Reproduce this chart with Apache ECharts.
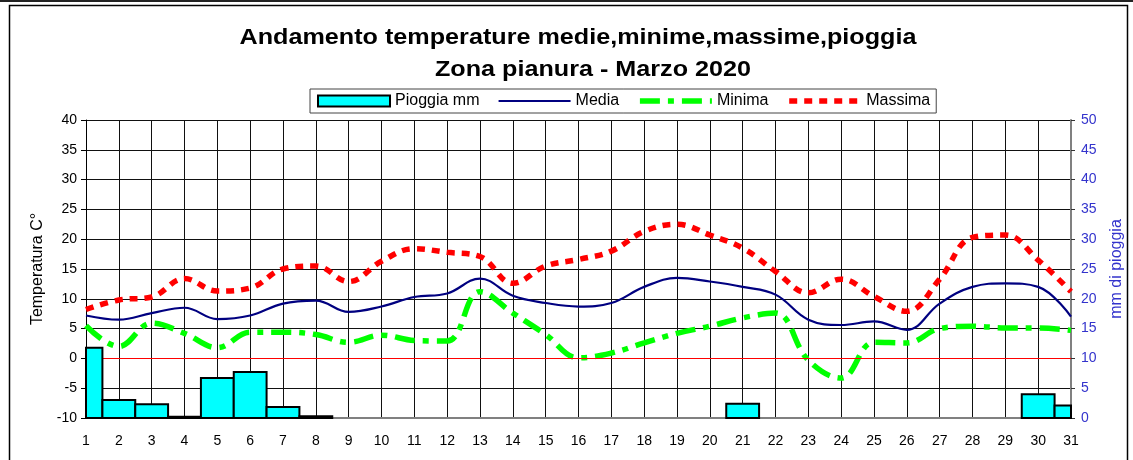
<!DOCTYPE html>
<html>
<head>
<meta charset="utf-8">
<script src="https://cdn.jsdelivr.net/npm/echarts@6/dist/echarts.min.js"></script>
<style>
html,body{margin:0;padding:0;background:#fff;}
#c{width:1133px;height:460px;}
</style>
</head>
<body>
<div id="c"></div>
<script>
const days = [1,2,3,4,5,6,7,8,9,10,11,12,13,14,15,16,17,18,19,20,21,22,23,24,25,26,27,28,29,30,31];
const pioggia = [11.8,3.0,2.3,0.2,6.7,7.7,1.85,0.3,0,0,0,0,0,0,0,0,0,0,0,0,2.4,0,0,0,0,0,0,0,0,4.0,2.1];
const media = [7.2,6.5,7.6,8.5,6.6,7.2,9.2,9.7,7.8,8.7,10.3,10.9,13.4,10.5,9.3,8.7,9.3,12.0,13.5,12.9,12.0,10.7,6.5,5.6,6.2,4.8,9.2,12.0,12.6,12.0,7.0];
const minima = [5.5,2.0,5.9,4.2,1.8,4.4,4.4,4.0,2.7,3.9,3.0,2.9,11.2,7.6,4.0,0.1,0.9,2.6,4.2,5.4,6.8,7.6,-0.3,-3.3,2.7,2.6,5.0,5.4,5.1,5.1,4.7];
const massima = [8.2,9.8,10.3,13.4,11.3,11.8,15.0,15.5,12.9,16.3,18.4,17.8,17.1,12.6,15.5,16.6,18.0,21.3,22.5,20.7,18.5,14.6,11.0,13.3,10.4,7.9,13.3,20.3,20.7,16.5,11.2];
const titolo1 = 'Andamento temperature medie,minime,massime,pioggia';
const titolo2 = 'Zona pianura - Marzo 2020';

const pair = arr => days.map((d, i) => [d, arr[i]]);

const FONT = 'Arial, "Liberation Sans", sans-serif';
const chart = echarts.init(document.getElementById('c'), null, {renderer: 'canvas'});

function renderRain(params, api) {
  const x = api.value(0), v = api.value(1);
  if (!(v > 0)) return null;
  const p0 = api.coord([x - 0.5, v]);
  const p1 = api.coord([x + 0.5, 0]);
  const cs = params.coordSys;
  const rect = echarts.graphic.clipRectByRect(
    {x: p0[0], y: p0[1], width: p1[0] - p0[0], height: p1[1] - p0[1]},
    {x: cs.x, y: cs.y, width: cs.width, height: cs.height}
  );
  if (!rect) return null;
  return {type: 'rect', shape: rect, style: {fill: '#00FFFF', stroke: '#000', lineWidth: 2}};
}

chart.setOption({
  animation: false,
  backgroundColor: '#fff',
  textStyle: {fontFamily: FONT},
  graphic: [
    {type: 'rect', silent: true, shape: {x: 0, y: 0, width: 1133, height: 2}, style: {fill: '#222'}},
    {type: 'polyline', silent: true, shape: {points: [[9.5, 470], [9.5, 5.5], [1127.5, 5.5], [1127.5, 470]]},
     style: {stroke: '#000', lineWidth: 1.5, fill: null}},
    {type: 'text', silent: true, x: 578, y: 38, scaleX: 1.144,
     style: {text: titolo1, font: 'bold 22px ' + FONT, fill: '#000', align: 'center', verticalAlign: 'middle'}},
    {type: 'text', silent: true, x: 593, y: 70, scaleX: 1.144,
     style: {text: titolo2, font: 'bold 22px ' + FONT, fill: '#000', align: 'center', verticalAlign: 'middle'}}
  ],
  legend: {
    left: 310, top: 89,
    padding: [4, 6, 4, 7],
    itemWidth: 72, itemHeight: 11, itemGap: 18,
    borderColor: '#444', borderWidth: 1, backgroundColor: '#fff',
    textStyle: {fontFamily: FONT, fontSize: 16, color: '#000'},
    lineStyle: {width: 'inherit'},
    data: [
      {name: 'Pioggia mm', icon: 'rect'},
      {name: 'Media', itemStyle: {opacity: 0}},
      {name: 'Minima', itemStyle: {opacity: 0}},
      {name: 'Massima', itemStyle: {opacity: 0}}
    ]
  },
  grid: {left: 86, right: 60, top: 120, bottom: 42, containLabel: false},
  xAxis: {
    type: 'value', min: 1, max: 31, interval: 1,
    axisLine: {show: true, onZero: false, lineStyle: {color: '#808080', width: 2}},
    axisTick: {show: false},
    axisLabel: {margin: 16, fontSize: 14, color: '#000', fontFamily: FONT},
    splitLine: {show: true, lineStyle: {color: '#111', width: 1}}
  },
  yAxis: [
    {
      type: 'value', min: -10, max: 40, interval: 5, position: 'left',
      name: 'Temperatura C°', nameLocation: 'middle', nameGap: 40, nameRotate: 90,
      nameTextStyle: {fontSize: 16, color: '#000', fontFamily: FONT},
      axisLine: {show: true, onZero: false, lineStyle: {color: '#000', width: 1}},
      axisTick: {show: true, length: 5, lineStyle: {color: '#000'}},
      axisLabel: {margin: 9, fontSize: 14, color: '#000', fontFamily: FONT},
      splitLine: {show: true, lineStyle: {color: '#111', width: 1}}
    },
    {
      type: 'value', min: 0, max: 50, interval: 5, position: 'right',
      name: 'mm di pioggia', nameLocation: 'middle', nameGap: 38, nameRotate: 90,
      nameTextStyle: {fontSize: 16, color: '#3333CC', fontFamily: FONT},
      axisLine: {show: true, lineStyle: {color: '#808080', width: 2}},
      axisTick: {show: true, length: 4, lineStyle: {color: '#333'}},
      axisLabel: {margin: 10, fontSize: 14, color: '#3333CC', fontFamily: FONT},
      splitLine: {show: false}
    }
  ],
  series: [
    {
      name: 'Pioggia mm', type: 'custom', yAxisIndex: 1, data: pair(pioggia),
      renderItem: renderRain,
      encode: {x: 0, y: 1},
      itemStyle: {color: '#00FFFF', borderColor: '#000', borderWidth: 2},
      z: 6
    },
    {
      name: 'Media', type: 'line', yAxisIndex: 0, data: pair(media),
      smooth: 0.4, symbol: 'none',
      lineStyle: {color: '#000080', width: 2.2},
      itemStyle: {color: '#000080'},
      z: 4,
      markLine: {
        silent: true, symbol: 'none', label: {show: false},
        lineStyle: {color: '#FF0000', width: 1, type: 'solid'},
        data: [{yAxis: 0}]
      }
    },
    {
      name: 'Minima', type: 'line', yAxisIndex: 0, data: pair(minima),
      smooth: 0.4, symbol: 'none',
      lineStyle: {color: '#00FF00', width: 5.5, type: [20, 8, 6, 8]},
      itemStyle: {color: '#00FF00'},
      z: 3
    },
    {
      name: 'Massima', type: 'line', yAxisIndex: 0, data: pair(massima),
      smooth: 0.4, symbol: 'none',
      lineStyle: {color: '#FF0000', width: 5.5, type: [8, 7]},
      itemStyle: {color: '#FF0000'},
      z: 3
    }
  ]
});
</script>
</body>
</html>
